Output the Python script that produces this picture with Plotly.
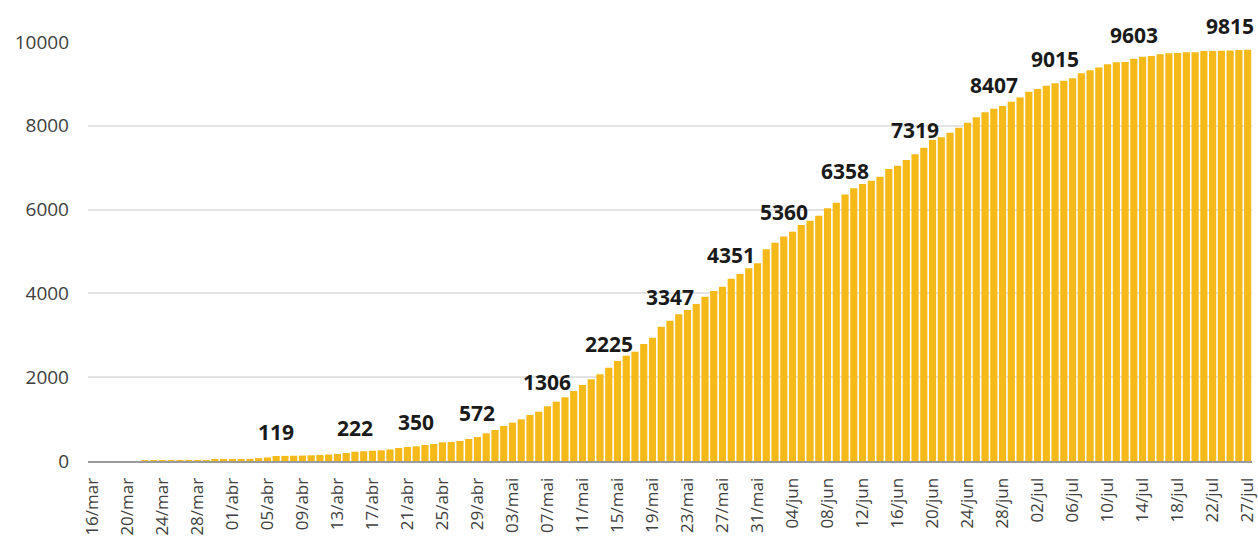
import datetime as dt
import plotly.graph_objects as go

# ---- categories (daily, 16/mar .. 25/jul, then 27/jul) ----
MONTHS = {3: "mar", 4: "abr", 5: "mai", 6: "jun", 7: "jul"}
start = dt.date(2020, 3, 16)
categories = [
    f"{(start + dt.timedelta(days=i)).day:02d}/{MONTHS[(start + dt.timedelta(days=i)).month]}"
    for i in range(132)
] + ["27/jul"]

# ---- cumulative values ----
values = (
    [0, 0, 0, 0, 0, 0]
    + [2, 4, 6, 8, 11, 14, 18, 22, 26, 30, 35, 42, 50, 70, 85]
    + [119, 122, 126, 130, 136, 145, 155, 168, 190, 222, 232, 245, 255, 275, 310, 334, 350]
    + [382, 406, 446, 453, 477, 525, 572, 660, 740, 835, 915, 994, 1098, 1177, 1306,
       1416, 1520, 1670, 1814, 1950, 2069]
    + [2225, 2387, 2514, 2609, 2792, 2943, 3206, 3347, 3500, 3604, 3747, 3922, 4057,
       4161, 4351, 4463, 4598, 4717]
    + [5052, 5210, 5360, 5473, 5632, 5735, 5855, 6030, 6165, 6358, 6508, 6611, 6690,
       6785, 6969, 7048, 7184, 7319, 7478, 7661, 7725, 7836, 7955, 8074, 8202, 8321, 8407]
    + [8473, 8576, 8675, 8815, 8878, 8955, 9015, 9073, 9133, 9252, 9325, 9392, 9470,
       9515, 9520, 9603, 9650, 9666, 9706, 9730, 9735, 9753, 9758, 9785, 9787, 9790,
       9795, 9809, 9815]
)
assert len(values) == len(categories)

# ---- tick labels on the category axis ----
tick_labels = categories[::4] + ["27/jul"]

# ---- bars that carry a value label ----
label_dates = ["06/abr", "15/abr", "22/abr", "29/abr", "07/mai", "14/mai", "21/mai",
               "28/mai", "03/jun", "10/jun", "18/jun", "27/jun", "04/jul", "13/jul", "27/jul"]

y_ticks = [0, 2000, 4000, 6000, 8000, 10000]
y_tick_text = ["0", "2000", "4000", "6000", "8000", "10000"]

BAR = "#F5B919"
TXT = "#404040"

fig = go.Figure(
    go.Bar(
        x=categories,
        y=values,
        marker=dict(color=BAR, line=dict(width=0)),
        hoverinfo="x+y",
    )
)

lookup = dict(zip(categories, values))
annotations = []
for d in label_dates:
    last = d == categories[-1]
    annotations.append(
        dict(
            x=d,
            y=lookup[d],
            xref="x",
            yref="y",
            text=f"{lookup[d]}",
            showarrow=False,
            yanchor="middle",
            yshift=24,
            xanchor="right" if last else "center",
            xshift=8 if last else 0,
            font=dict(family="Open Sans", size=21, color="#1a1a1a", weight="bold"),
        )
    )

fig.update_layout(
    width=1258,
    height=540,
    margin=dict(l=88, r=6, t=42, b=79),
    paper_bgcolor="white",
    plot_bgcolor="white",
    bargap=0.18,
    showlegend=False,
    annotations=annotations,
    font=dict(family="Open Sans", color=TXT),
    xaxis=dict(
        type="category",
        categoryorder="array",
        categoryarray=categories,
        tickmode="array",
        tickvals=tick_labels,
        ticktext=tick_labels,
        tickangle=-90,
        tickfont=dict(family="Open Sans", size=17, color=TXT),
        showline=True,
        linecolor="#9a9a9a",
        linewidth=2,
        showgrid=False,
        ticks="",
        ticklabelstandoff=8,
        range=[-0.5, len(categories) - 0.5],
        automargin=False,
        fixedrange=True,
    ),
    yaxis=dict(
        range=[0, 10000],
        tickmode="array",
        tickvals=y_ticks,
        ticktext=y_tick_text,
        tickfont=dict(family="Open Sans", size=19, color=TXT),
        showgrid=True,
        gridcolor="#e3e3e3",
        gridwidth=2,
        zeroline=False,
        showline=False,
        ticks="",
        ticklabelstandoff=18,
        automargin=False,
        fixedrange=True,
    ),
)

fig.write_html(
    "out.html",
    config={"displayModeBar": False},
    post_script="document.body.style.margin='0px';document.body.style.overflow='hidden';",
)
